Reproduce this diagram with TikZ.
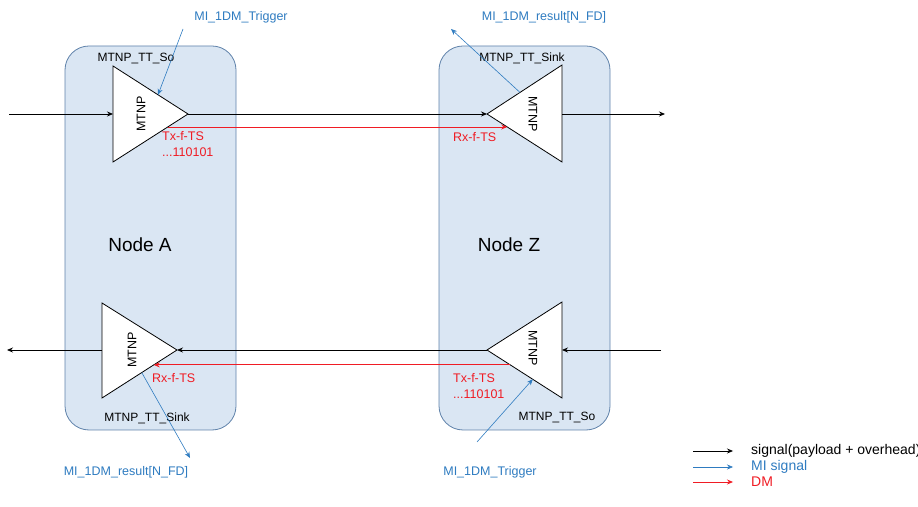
\documentclass[tikz,border=0pt]{standalone}
\usepackage{fontspec}
\setmainfont{Liberation Sans}
\usetikzlibrary{arrows.meta,calc}
\definecolor{boxfill}{HTML}{DAE6F3}
\definecolor{boxline}{HTML}{5F82AA}
\definecolor{miblue}{HTML}{2E7BC0}
\definecolor{dmred}{HTML}{F01C24}
\tikzset{
  nodebox/.style={draw=boxline,fill=boxfill,rounded corners=24pt,line width=0.8pt},
  mtnp/.style={draw=black,fill=white,line width=0.8pt,line join=miter},
  sig/.style={-{Stealth[length=6pt,width=5pt]},line width=0.8pt},
  mi/.style={sig,draw=miblue,line width=0.6pt},
  dm/.style={sig,draw=dmred},
  lbl/.style={font=\fontsize{12}{16}\selectfont,inner sep=0pt},
  milbl/.style={lbl,text=miblue,font=\fontsize{12.5}{16}\selectfont},
  dmlbl/.style={lbl,text=dmred,align=left,anchor=west,font=\fontsize{12.5}{16.5}\selectfont},
  rot/.style={lbl,font=\fontsize{12.5}{14}\selectfont},
  bigl/.style={font=\fontsize{19}{21}\selectfont,inner sep=0pt},
  leg/.style={lbl,anchor=west,font=\fontsize{14}{16}\selectfont},
}

\begin{document}
\begin{tikzpicture}[x=1pt,y=1pt]
  \useasboundingbox (0,0) rectangle (918,506);

  % the two network nodes
  \draw[nodebox] (65,76) rectangle (236,460);
  \draw[nodebox] (439,76) rectangle (610,460);
  \node[bigl] (nodeA) at (140,261) {Node A};
  \node[bigl] (nodeZ) at (509,261) {Node Z};

  % MTNP triangles: t = top, b = bottom, p = apex
  \coordinate (aso-t) at (113,440); \coordinate (aso-b) at (113,344); \coordinate (aso-p) at (188,392);
  \coordinate (zsk-t) at (562,441); \coordinate (zsk-b) at (562,344); \coordinate (zsk-p) at (487,392);
  \coordinate (ask-t) at (102,203); \coordinate (ask-b) at (102,108); \coordinate (ask-p) at (177,156);
  \coordinate (zso-t) at (562,204); \coordinate (zso-b) at (562,108); \coordinate (zso-p) at (487,156);
  \draw[mtnp] (aso-t) -- (aso-p) -- (aso-b) -- cycle;
  \draw[mtnp] (zsk-t) -- (zsk-p) -- (zsk-b) -- cycle;
  \draw[mtnp] (ask-t) -- (ask-p) -- (ask-b) -- cycle;
  \draw[mtnp] (zso-t) -- (zso-p) -- (zso-b) -- cycle;
  \node[rot,rotate=90] (asoT) at (141,392) {MTNP};
  \node[rot,rotate=-90] (zskT) at (533,392) {MTNP};
  \node[rot,rotate=90] (askT) at (132,156) {MTNP};
  \node[rot,rotate=-90] (zsoT) at (533,158) {MTNP};

  \node[lbl] (asoN) at (136,447) {MTNP\_TT\_So};
  \node[lbl] (zskN) at (522,448) {MTNP\_TT\_Sink};
  \node[lbl] (askN) at (147,88) {MTNP\_TT\_Sink};
  \node[lbl] (zsoN) at (557,88) {MTNP\_TT\_So};

  % payload signal
  \coordinate (inA) at (9,392);
  \coordinate (outZ) at (665,392);
  \coordinate (inZ) at (661,156);
  \coordinate (outA) at (7,156);
  \draw[sig] (inA) -- (aso-b |- aso-p);
  \draw[sig] (aso-p) -- (zsk-p);
  \draw[sig] (zsk-t |- zsk-p) -- (outZ);
  \draw[sig] (inZ) -- (zso-t |- zso-p);
  \draw[sig] (zso-p) -- (ask-p);
  \draw[sig] (ask-b |- ask-p) -- (outA);

  % delay measurement
  \draw[dm] ($(aso-p)!0.27!(aso-b)$) -- ($(zsk-p)!0.27!(zsk-b)$);
  \draw[dm] ($(zso-p)!0.31!(zso-b)$) -- ($(ask-p)!0.31!(ask-b)$);
  \node[dmlbl] (txA) at (162,362) {Tx-f-TS\\...110101};
  \node[dmlbl] (rxZ) at (453,369) {Rx-f-TS};
  \node[dmlbl] (rxA) at (152,128) {Rx-f-TS};
  \node[dmlbl] (txZ) at (453,120) {Tx-f-TS\\...110101};

  % MI signals
  \node[milbl] (trigA) at (241,489) {MI\_1DM\_Trigger};
  \node[milbl] (resZ) at (544,489) {MI\_1DM\_result[N\_FD]};
  \node[milbl] (resA) at (126,34) {MI\_1DM\_result[N\_FD]};
  \node[milbl] (trigZ) at (490,34) {MI\_1DM\_Trigger};
  \coordinate (trigA-s) at (183,477);
  \coordinate (resZ-e) at (451,477);
  \coordinate (resA-e) at (190,48);
  \coordinate (trigZ-s) at (477,64);
  \draw[mi] (trigA-s) -- ($(aso-t)!0.6!(aso-p)$);
  \draw[mi] ($(zsk-p)!0.44!(zsk-t)$) -- (resZ-e);
  \draw[mi] ($(ask-p)!0.47!(ask-b)$) -- (resA-e);
  \draw[mi] (trigZ-s) -- ($(zso-p)!0.61!(zso-b)$);

  % legend
  \node[leg] (lgSig) at (751,55) {signal(payload + overhead)};
  \node[leg,text=miblue] (lgMi) at (751,39) {MI signal};
  \node[leg,text=dmred] (lgDm) at (751,24) {DM};
  \coordinate (lgSig-s) at (693,55);
  \coordinate (lgMi-s) at (693,39);
  \coordinate (lgDm-s) at (693,24);
  \draw[sig] (lgSig-s) -- ++(40,0);
  \draw[mi] (lgMi-s) -- ++(40,0);
  \draw[dm] (lgDm-s) -- ++(40,0);
\end{tikzpicture}
\end{document}
